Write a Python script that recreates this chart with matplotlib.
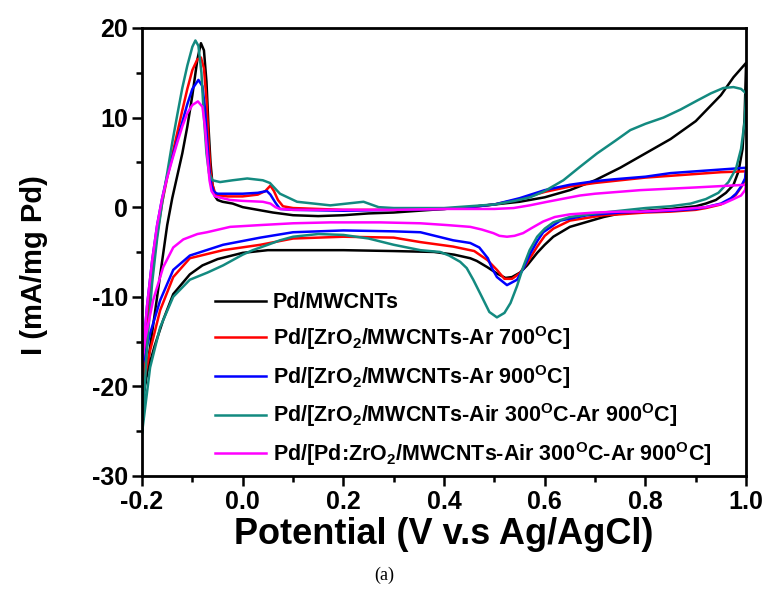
import matplotlib
matplotlib.use("Agg")
import matplotlib.pyplot as plt
from matplotlib.ticker import MultipleLocator

plt.rcParams['font.family'] = ['Liberation Sans', 'DejaVu Sans']
plt.rcParams['font.weight'] = 'bold'
plt.rcParams['mathtext.fontset'] = 'custom'
plt.rcParams['mathtext.rm'] = 'Liberation Sans:bold'
plt.rcParams['mathtext.it'] = 'Liberation Sans:bold'
plt.rcParams['mathtext.bf'] = 'Liberation Sans:bold'

# CV loops: anodic sweep -0.2 -> 1.0 V, then cathodic sweep back to -0.2 V
v_black = [-0.2, -0.19, -0.18, -0.17, -0.16, -0.15, -0.14, -0.13, -0.12, -0.11, -0.10, -0.09, -0.083,
           -0.077, -0.072, -0.068, -0.064, -0.06, -0.055, -0.05, -0.04, -0.02, 0.0, 0.03, 0.06, 0.1,
           0.15, 0.2, 0.25, 0.3, 0.35, 0.4, 0.45, 0.5, 0.55, 0.6, 0.65, 0.7, 0.75, 0.8, 0.85, 0.9,
           0.95, 0.975, 1.0,
           0.997, 0.993, 0.985, 0.975, 0.96, 0.94, 0.92, 0.9, 0.85, 0.8, 0.75, 0.717, 0.65, 0.617,
           0.6, 0.585, 0.565, 0.551, 0.535, 0.522, 0.505, 0.486, 0.465, 0.452, 0.42, 0.38, 0.3, 0.2,
           0.1, 0.05, 0.0, -0.05, -0.08, -0.105, -0.12, -0.138, -0.158, -0.175, -0.19, -0.2]
i_black = [-22.0, -18.0, -14.0, -10.0, -6.0, -2.0, 1.0, 3.5, 6.0, 9.0, 12.5, 16.5, 18.3,
           17.5, 14.0, 9.0, 5.0, 2.5, 1.2, 0.8, 0.6, 0.4, 0.0, -0.3, -0.6, -0.9,
           -1.0, -0.9, -0.7, -0.6, -0.4, -0.2, 0.0, 0.3, 0.6, 1.1, 1.9, 3.0, 4.4, 6.0, 7.6, 9.6,
           12.5, 14.5, 16.1,
           10.0, 6.5, 4.0, 2.5, 1.6, 0.8, 0.4, 0.1, -0.2, -0.4, -0.7, -1.1, -2.2, -3.3,
           -4.2, -5.1, -6.5, -7.3, -7.8, -7.9, -7.4, -6.7, -6.0, -5.7, -5.3, -5.0, -4.9, -4.8,
           -4.8, -4.8, -5.1, -5.8, -6.5, -7.5, -8.5, -9.7, -12.6, -15.5, -18.5, -22.0]

v_red = [-0.2, -0.19, -0.18, -0.17, -0.16, -0.15, -0.14, -0.13, -0.12, -0.11, -0.10, -0.09, -0.083,
         -0.077, -0.072, -0.068, -0.064, -0.06, -0.055, -0.05, -0.03, 0.0, 0.03, 0.045, 0.055, 0.062,
         0.07, 0.08, 0.1, 0.2, 0.3, 0.4, 0.45, 0.5, 0.55, 0.6, 0.65, 0.7, 0.75, 0.8, 0.85, 0.9, 0.95,
         1.0,
         0.998, 0.99, 0.98, 0.97, 0.95, 0.92, 0.9, 0.85, 0.8, 0.75, 0.717, 0.65, 0.617, 0.6, 0.585,
         0.565, 0.55, 0.535, 0.52, 0.505, 0.486, 0.46, 0.418, 0.353, 0.3, 0.2, 0.1, 0.035, -0.039,
         -0.105, -0.138, -0.164, -0.184, -0.2]
i_red = [-20.5, -13.5, -7.5, -3.0, 0.5, 3.3, 5.8, 8.3, 10.8, 13.2, 15.3, 16.5, 16.7,
         15.5, 12.0, 7.5, 4.0, 2.5, 1.6, 1.3, 1.2, 1.2, 1.4, 1.8, 2.4, 1.8,
         0.8, 0.1, -0.1, -0.3, -0.3, -0.2, 0.0, 0.3, 0.9, 1.7, 2.3, 2.7, 3.0, 3.3, 3.5, 3.7, 3.9,
         4.0,
         3.0, 2.2, 1.4, 0.9, 0.3, -0.1, -0.3, -0.5, -0.6, -0.8, -0.9, -1.5, -2.4, -3.2, -4.4,
         -6.2, -7.4, -8.0, -8.0, -7.0, -5.9, -4.9, -4.4, -3.9, -3.4, -3.3, -3.5, -4.2, -4.8,
         -5.7, -7.8, -11.5, -16.0, -20.5]

v_blue = [-0.2, -0.19, -0.18, -0.17, -0.16, -0.15, -0.14, -0.13, -0.12, -0.11, -0.10, -0.088,
          -0.08, -0.075, -0.07, -0.066, -0.062, -0.057, -0.05, -0.02, 0.0, 0.03, 0.048, 0.055, 0.065,
          0.074, 0.1, 0.2, 0.3, 0.4, 0.45, 0.5, 0.55, 0.6, 0.65, 0.7, 0.736, 0.8, 0.85, 0.9, 0.95,
          1.0,
          0.998, 0.99, 0.98, 0.97, 0.95, 0.92, 0.9, 0.85, 0.8, 0.75, 0.684, 0.631, 0.597, 0.585,
          0.571, 0.558, 0.545, 0.525, 0.505, 0.495, 0.487, 0.47, 0.452, 0.418, 0.353, 0.3, 0.2, 0.1,
          0.035, -0.039, -0.105, -0.138, -0.164, -0.184, -0.2]
i_blue = [-17.8, -11.0, -6.0, -2.0, 1.0, 3.5, 5.5, 7.5, 9.5, 11.5, 13.2, 14.2,
          13.5, 11.0, 7.0, 4.0, 2.4, 1.7, 1.5, 1.5, 1.5, 1.6, 1.8, 1.4, 0.5,
          -0.2, -0.3, -0.4, -0.3, -0.2, 0.0, 0.3, 1.0, 1.9, 2.5, 2.9, 3.1, 3.4, 3.8, 4.0, 4.2,
          4.4,
          3.2, 2.3, 1.5, 1.0, 0.4, 0.0, -0.2, -0.4, -0.5, -0.6, -0.9, -1.5, -2.8, -3.8,
          -5.2, -6.8, -8.1, -8.7, -7.8, -6.8, -5.7, -4.5, -4.0, -3.7, -2.8, -2.7, -2.6, -2.8,
          -3.4, -4.2, -5.4, -7.0, -10.4, -14.1, -17.8]

v_teal = [-0.2, -0.19, -0.18, -0.17, -0.16, -0.15, -0.14, -0.13, -0.12, -0.11, -0.10, -0.094,
          -0.088, -0.082, -0.077, -0.072, -0.067, -0.06, -0.045, -0.02, 0.009, 0.04, 0.054, 0.074,
          0.108, 0.174, 0.24, 0.27, 0.3, 0.4, 0.45, 0.5, 0.54, 0.571, 0.6, 0.637, 0.67, 0.704, 0.74,
          0.77, 0.8, 0.836, 0.87, 0.903, 0.93, 0.955, 0.975, 0.99, 1.0,
          0.997, 0.99, 0.98, 0.965, 0.945, 0.92, 0.89, 0.85, 0.8, 0.75, 0.7, 0.65, 0.617, 0.6,
          0.585, 0.57, 0.557, 0.545, 0.532, 0.52, 0.505, 0.49, 0.475, 0.458, 0.445, 0.432, 0.41,
          0.392, 0.353, 0.3, 0.25, 0.2, 0.15, 0.1, 0.074, 0.05, 0.02, 0.0, -0.039, -0.07, -0.105,
          -0.138, -0.164, -0.184, -0.2]
i_teal = [-25.2, -15.5, -8.5, -3.5, 0.5, 3.8, 7.2, 10.3, 13.3, 15.8, 17.9, 18.6,
          18.0, 15.0, 10.0, 6.0, 3.8, 3.0, 2.8, 3.0, 3.2, 3.0, 2.7, 1.5,
          0.6, 0.2, 0.6, 0.0, -0.1, -0.1, 0.1, 0.3, 0.7, 1.1, 1.8, 3.0, 4.5, 6.0, 7.4,
          8.6, 9.3, 10.0, 10.9, 11.9, 12.7, 13.3, 13.4, 13.2, 12.7,
          9.5, 6.5, 4.3, 2.8, 1.6, 0.9, 0.4, 0.1, -0.1, -0.4, -0.7, -1.1, -1.7, -2.4,
          -3.3, -4.8, -6.7, -8.8, -10.7, -11.8, -12.3, -11.7, -10.0, -8.1, -6.8, -6.1, -5.4,
          -5.0, -4.8, -4.2, -3.5, -3.1, -3.0, -3.3, -3.7, -4.2, -4.8, -5.3, -6.5, -7.3, -8.1,
          -10.0, -13.4, -17.9, -25.2]

v_mag = [-0.2, -0.19, -0.18, -0.17, -0.16, -0.15, -0.14, -0.13, -0.12, -0.11, -0.10, -0.089,
         -0.08, -0.075, -0.07, -0.066, -0.062, -0.055, -0.04, -0.025, 0.0, 0.04, 0.055, 0.065, 0.074,
         0.1, 0.2, 0.3, 0.4, 0.5, 0.538, 0.57, 0.605, 0.67, 0.7, 0.79, 0.9, 1.0,
         0.998, 0.99, 0.975, 0.955, 0.92, 0.856, 0.79, 0.75, 0.7, 0.65, 0.62, 0.597, 0.575, 0.557,
         0.54, 0.525, 0.51, 0.498, 0.475, 0.452, 0.406, 0.353, 0.273, 0.174, 0.1, 0.035, -0.025,
         -0.071, -0.09, -0.118, -0.138, -0.158, -0.178, -0.194, -0.2]
i_mag = [-17.5, -11.0, -6.0, -2.0, 1.0, 3.3, 5.3, 7.2, 9.0, 10.5, 11.4, 11.8,
         11.2, 9.0, 5.5, 3.0, 1.8, 1.2, 1.0, 0.8, 0.7, 0.6, 0.4, 0.0, -0.2,
         -0.3, -0.3, -0.3, -0.2, -0.2, -0.1, 0.2, 0.6, 1.3, 1.5, 1.9, 2.2, 2.5,
         1.9, 1.3, 0.9, 0.4, 0.0, -0.3, -0.5, -0.5, -0.6, -0.8, -1.1, -1.6, -2.3, -2.9,
         -3.2, -3.3, -3.2, -2.9, -2.5, -2.2, -2.0, -1.8, -1.7, -1.7, -1.8, -2.0, -2.2,
         -2.8, -3.0, -3.6, -4.5, -6.7, -10.4, -14.8, -17.5]

labels = ['Pd/MWCNTs',
          'Pd/[ZrO$_2$/MWCNTs-Ar 700$^{O}$C]',
          'Pd/[ZrO$_2$/MWCNTs-Ar 900$^{O}$C]',
          'Pd/[ZrO$_2$/MWCNTs-Air 300$^{O}$C-Ar 900$^{O}$C]',
          'Pd/[Pd:ZrO$_2$/MWCNTs-Air 300$^{O}$C-Ar 900$^{O}$C]']
colors = ['black', '#ff0000', '#0000ff', '#138a80', '#ff00ff']

fig = plt.figure(figsize=(7.69, 5.92), dpi=100)
ax = fig.add_axes([0.1847, 0.196, 0.7855, 0.7568])

series = [(v_black, i_black), (v_red, i_red), (v_blue, i_blue), (v_teal, i_teal), (v_mag, i_mag)]
for (v, i), lab, c in zip(series, labels, colors):
    ax.plot(v, i, color=c, lw=1.8, label=lab)

ax.set_xlim(-0.2, 1.0)
ax.set_ylim(-30, 20)
ax.xaxis.set_minor_locator(MultipleLocator(0.1))
ax.yaxis.set_minor_locator(MultipleLocator(5))
ax.tick_params(which='major', direction='out', length=7, width=1.8, labelsize=18, pad=3)
ax.tick_params(which='minor', direction='out', length=4.5, width=1.8)
ax.set_xticks([-0.2, 0.0, 0.2, 0.4, 0.6, 0.8, 1.0])
ax.set_xticklabels(['-0.2', '0.0', '0.2', '0.4', '0.6', '0.8', '1.0'], fontweight='bold')
ax.set_yticks([-30, -20, -10, 0, 10, 20])
ax.set_yticklabels(['-30', '-20', '-10', '0', '10', '20'], fontweight='bold')
for s in ax.spines.values():
    s.set_linewidth(2)

ax.set_xlabel('Potential (V v.s Ag/AgCl)', fontsize=26, fontweight='bold', labelpad=2)
ax.set_ylabel('I (mA/mg Pd)', fontsize=21, fontweight='bold')
ax.yaxis.set_label_coords(-0.156, 0.47)

leg = ax.legend(loc='upper left', bbox_to_anchor=(0.12, 0.41), frameon=False, fontsize=15.5,
                handlelength=2.4, handletextpad=0.3, labelspacing=0.5, borderpad=0,
                borderaxespad=0)

fig.text(0.5, 0.028, '(a)', ha='center', va='center', fontsize=13,
         family=['Liberation Serif', 'DejaVu Serif'], fontweight='normal')

fig.savefig('out.png', dpi=100)
